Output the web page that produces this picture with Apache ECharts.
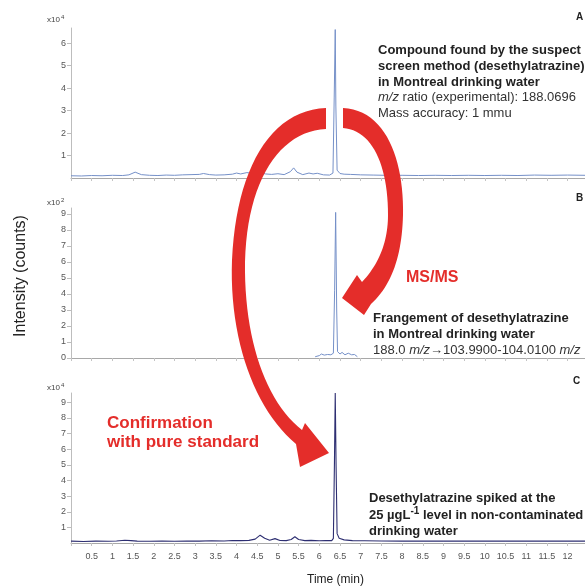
<!DOCTYPE html>
<html><head><meta charset="utf-8">
<script src="https://cdn.jsdelivr.net/npm/echarts@6/dist/echarts.min.js"></script>
<style>html,body{margin:0;padding:0;background:#fff}#c{width:585px;height:586px}</style>
</head><body><div id="c"></div>
<script>
// ---- data ----
const timeA = [0.0,0.25,0.5,0.75,1.0,1.25,1.4,1.55,1.7,1.9,2.1,2.3,2.5,2.7,2.9,3.1,3.2,3.35,3.5,3.7,3.9,4.0,4.1,4.25,4.4,4.55,4.7,4.85,5.0,5.15,5.3,5.38,5.46,5.6,5.75,5.85,5.95,6.1,6.25,6.33,6.36,6.385,6.40,6.43,6.5,6.6,6.75,7.0,7.3,7.6,8.0,8.4,8.8,9.2,9.6,10.0,10.4,10.8,11.2,11.6,12.0,12.42];
const intensityA = [0.10,0.09,0.11,0.10,0.12,0.11,0.14,0.26,0.15,0.12,0.11,0.13,0.12,0.14,0.15,0.16,0.20,0.15,0.13,0.14,0.17,0.22,0.18,0.24,0.20,0.25,0.18,0.16,0.19,0.15,0.28,0.45,0.26,0.15,0.22,0.18,0.21,0.14,0.13,0.22,3.6,6.6,3.2,0.35,0.20,0.17,0.16,0.14,0.13,0.12,0.12,0.11,0.12,0.11,0.12,0.11,0.12,0.11,0.13,0.12,0.13,0.12];

const timeB = [5.9,6.0,6.05,6.12,6.2,6.28,6.34,6.37,6.395,6.42,6.44,6.5,6.55,6.62,6.7,6.78,6.85,6.92];
const intensityB = [0.08,0.15,0.25,0.18,0.22,0.20,0.30,4.2,9.1,3.0,0.4,0.25,0.35,0.20,0.30,0.20,0.22,0.08];

const timeC = [0.0,0.3,0.6,0.9,1.1,1.3,1.45,1.6,1.9,2.2,2.5,2.8,3.1,3.4,3.7,3.9,4.1,4.3,4.45,4.57,4.68,4.8,4.93,5.05,5.2,5.32,5.41,5.5,5.65,5.8,6.0,6.15,6.3,6.34,6.365,6.385,6.405,6.43,6.48,6.6,6.8,7.1,7.5,8.0,8.5,9.0,9.5,10.0,10.5,11.0,11.5,12.0,12.42];
const intensityC = [0.12,0.10,0.12,0.11,0.13,0.18,0.15,0.12,0.11,0.12,0.11,0.13,0.12,0.14,0.13,0.16,0.15,0.17,0.25,0.50,0.30,0.17,0.28,0.16,0.15,0.22,0.40,0.22,0.15,0.17,0.14,0.16,0.15,0.30,5.0,9.6,5.0,0.6,0.30,0.20,0.15,0.14,0.13,0.12,0.13,0.12,0.12,0.13,0.12,0.13,0.12,0.13,0.12];

const xTickLabels = [0.5,1,1.5,2,2.5,3,3.5,4,4.5,5,5.5,6,6.5,7,7.5,8,8.5,9,9.5,10,10.5,11,11.5,12];
const yTicksA = [1,2,3,4,5,6];
const yTicksB = [0,1,2,3,4,5,6,7,8,9];
const yTicksC = [1,2,3,4,5,6,7,8,9];

const zip = (t, v) => t.map((x, i) => [x, v[i]]);

// ---- arrow outline helper (decoration only) ----
function outline(cmds) {
  const pts = [];
  let cur = null;
  cmds.forEach(c => {
    if (c[0] === 'M' || c[0] === 'L') { cur = [c[1], c[2]]; pts.push(cur); }
    else if (c[0] === 'C') {
      const p0 = cur, p1 = [c[1], c[2]], p2 = [c[3], c[4]], p3 = [c[5], c[6]];
      for (let k = 1; k <= 24; k++) {
        const t = k / 24, u = 1 - t;
        pts.push([
          u*u*u*p0[0] + 3*u*u*t*p1[0] + 3*u*t*t*p2[0] + t*t*t*p3[0],
          u*u*u*p0[1] + 3*u*u*t*p1[1] + 3*u*t*t*p2[1] + t*t*t*p3[1]
        ]);
      }
      cur = p3;
    }
  });
  return pts;
}

// ---- chart ----
const chart = echarts.init(document.getElementById('c'), null, {renderer: 'canvas'});
const FONT = 'Liberation Sans, Arial, sans-serif';
const RED = '#e42d2a';
const grids = [
  {left: 71, right: 0, top: 28, height: 150},
  {left: 71, right: 0, top: 208, height: 150},
  {left: 71, right: 0, top: 393, height: 150}
];
const yMax = [6.67, 9.375, 9.6];
const yTicks = [yTicksA, yTicksB, yTicksC];
const xAxes = grids.map((g, i) => ({
  gridIndex: i, type: 'value', min: 0, max: 12.42, interval: 0.5,
  axisLine: {show: true, lineStyle: {color: '#a8a8a8', width: 1}},
  axisTick: {show: true, length: 3, lineStyle: {color: '#c4c4c4'}},
  axisLabel: i === 2 ? {show: true, customValues: xTickLabels, color: '#555', fontSize: 9, fontFamily: FONT, margin: 9} : {show: false},
  splitLine: {show: false}
}));
const yAxes = grids.map((g, i) => ({
  gridIndex: i, type: 'value', min: 0, max: yMax[i],
  axisLine: {show: true, lineStyle: {color: '#bdbdbd', width: 1}},
  axisTick: {show: true, length: 4, customValues: yTicks[i], lineStyle: {color: '#bdbdbd'}},
  axisLabel: {show: true, customValues: yTicks[i], color: '#555', fontSize: 9, fontFamily: FONT, margin: 5},
  splitLine: {show: false}
}));

const leftArrow = outline([
  ['M', 326, 108], ['C', 270, 110, 236, 170, 232, 260], ['C', 229, 340, 255, 410, 296, 444],
  ['L', 300, 467], ['L', 329, 453], ['L', 305, 423], ['L', 302, 430],
  ['C', 266, 402, 244, 340, 245, 262], ['C', 247, 180, 280, 131, 326, 129]
]);
const rightArrow = outline([
  ['M', 343, 108], ['C', 386, 110, 404, 160, 403, 215], ['C', 402, 255, 392, 285, 371, 304],
  ['L', 364, 315], ['L', 342, 298], ['L', 357, 275], ['L', 362, 282],
  ['C', 380, 263, 388, 240, 388, 215], ['C', 388, 165, 372, 130, 343, 128]
]);

function txt(x, y, text, opts) {
  return {type: 'text', x: x, y: y, z: 20, style: Object.assign({
    text: text, fontSize: 13, fontFamily: FONT, fill: '#222', textVerticalAlign: 'middle'
  }, opts || {})};
}
const rich = {
  i: {fontStyle: 'italic', fontSize: 13, fontFamily: FONT, fill: '#333'},
  n: {fontSize: 13, fontFamily: FONT, fill: '#333'},
  b: {fontWeight: 'bold', fontSize: 13, fontFamily: FONT, fill: '#222'},
  sup: {fontWeight: 'bold', fontSize: 10, fontFamily: FONT, fill: '#222', padding: [0,0,7,0]},
  s9: {fontSize: 8, fontFamily: FONT, fill: '#444'},
  s6: {fontSize: 6, fontFamily: FONT, fill: '#444', padding: [0,0,5,1]}
};

chart.setOption({
  animation: false,
  backgroundColor: '#fff',
  grid: grids,
  xAxis: xAxes,
  yAxis: yAxes,
  series: [
    {type: 'line', xAxisIndex: 0, yAxisIndex: 0, data: zip(timeA, intensityA), showSymbol: false, lineStyle: {color: '#7590c8', width: 1}, z: 5},
    {type: 'line', xAxisIndex: 1, yAxisIndex: 1, data: zip(timeB, intensityB), showSymbol: false, lineStyle: {color: '#7590c8', width: 1}, z: 5},
    {type: 'line', xAxisIndex: 2, yAxisIndex: 2, data: zip(timeC, intensityC), showSymbol: false, lineStyle: {color: '#2e2f72', width: 1.1}, z: 5}
  ],
  graphic: [
    {type: 'polygon', z: 15, shape: {points: leftArrow}, style: {fill: RED}},
    {type: 'polygon', z: 15, shape: {points: rightArrow}, style: {fill: RED}},
    txt(576, 17, 'A', {fontWeight: 'bold', fontSize: 10}),
    txt(576, 198, 'B', {fontWeight: 'bold', fontSize: 10}),
    txt(573, 381, 'C', {fontWeight: 'bold', fontSize: 10}),
    {type: 'text', x: 47, y: 20, z: 20, style: {text: '{s9|x10}{s6|4}', rich: rich, textVerticalAlign: 'middle'}},
    {type: 'text', x: 47, y: 203, z: 20, style: {text: '{s9|x10}{s6|2}', rich: rich, textVerticalAlign: 'middle'}},
    {type: 'text', x: 47, y: 388, z: 20, style: {text: '{s9|x10}{s6|4}', rich: rich, textVerticalAlign: 'middle'}},
    txt(378, 50, 'Compound found by the suspect', {fontWeight: 'bold'}),
    txt(378, 66, 'screen method (desethylatrazine)', {fontWeight: 'bold'}),
    txt(378, 82, 'in Montreal drinking water', {fontWeight: 'bold'}),
    {type: 'text', x: 378, y: 97, z: 20, style: {text: '{i|m/z}{n| ratio (experimental): 188.0696}', rich: rich, textVerticalAlign: 'middle'}},
    txt(378, 113, 'Mass accuracy: 1 mmu', {fill: '#333'}),
    txt(406, 278, 'MS/MS', {fontWeight: 'bold', fontSize: 16, fill: RED}),
    txt(373, 318, 'Frangement of desethylatrazine', {fontWeight: 'bold'}),
    txt(373, 334, 'in Montreal drinking water', {fontWeight: 'bold'}),
    {type: 'text', x: 373, y: 350, z: 20, style: {text: '{n|188.0 }{i|m/z}{n|\u2192103.9900-104.0100 }{i|m/z}', rich: rich, textVerticalAlign: 'middle'}},
    txt(107, 423, 'Confirmation', {fontWeight: 'bold', fontSize: 17, fill: RED}),
    txt(107, 442, 'with pure standard', {fontWeight: 'bold', fontSize: 17, fill: RED}),
    txt(369, 498, 'Desethylatrazine spiked at the', {fontWeight: 'bold'}),
    {type: 'text', x: 369, y: 515, z: 20, style: {text: '{b|25 \u00b5gL}{sup|-1}{b| level in non-contaminated}', rich: rich, textVerticalAlign: 'middle'}},
    txt(369, 531, 'drinking water', {fontWeight: 'bold'}),
    txt(307, 580, 'Time (min)', {fontSize: 12, fill: '#222'}),
    {type: 'text', x: 21, y: 276, rotation: Math.PI / 2, z: 20, style: {text: 'Intensity (counts)', fontSize: 16, fontFamily: FONT, fill: '#222', textAlign: 'center', textVerticalAlign: 'middle'}}
  ]
});
</script>
</body></html>
